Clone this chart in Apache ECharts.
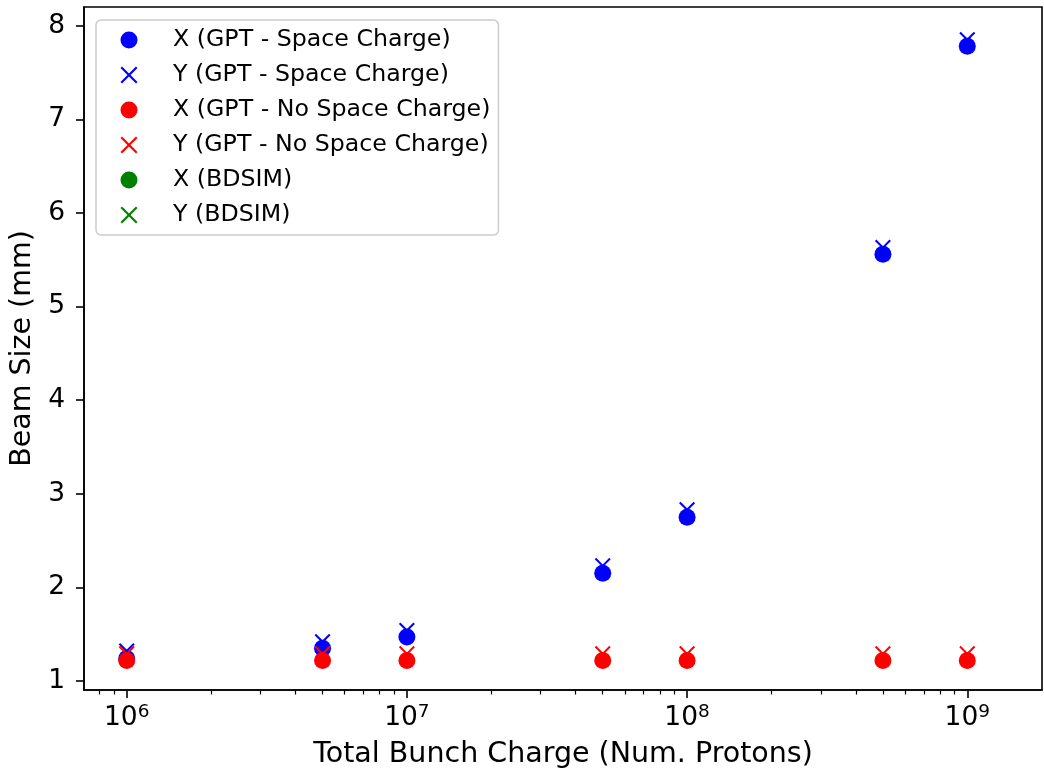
<!DOCTYPE html>
<html>
<head>
<meta charset="utf-8">
<script src="https://cdn.jsdelivr.net/npm/echarts@6/dist/echarts.min.js"></script>
<style>
  html, body { margin: 0; padding: 0; background: #fff; }
  #myChart { width: 1044px; height: 772px; }
</style>
</head>
<body>
<div id="myChart"></div>
<script>
// bunch charge values (protons)
const charges = [1e6, 5e6, 1e7, 5e7, 1e8, 5e8, 1e9];
// beam sizes (mm)
const xSpaceCharge = [1.24, 1.35, 1.47, 2.15, 2.75, 5.56, 7.78];
const ySpaceCharge = [1.32, 1.42, 1.54, 2.23, 2.83, 5.63, 7.85];
const xNoSpaceCharge = [1.22, 1.22, 1.22, 1.22, 1.22, 1.22, 1.22];
const yNoSpaceCharge = [1.29, 1.29, 1.29, 1.29, 1.29, 1.29, 1.29];
const xBdsim = [];
const yBdsim = [];

const majorTicks = [1e6, 1e7, 1e8, 1e9];
const minorTicks = [8e5, 9e5,
  2e6, 3e6, 4e6, 5e6, 6e6, 7e6, 8e6, 9e6,
  2e7, 3e7, 4e7, 5e7, 6e7, 7e7, 8e7, 9e7,
  2e8, 3e8, 4e8, 5e8, 6e8, 7e8, 8e8, 9e8];
const yTicks = [1, 2, 3, 4, 5, 6, 7, 8];

const names = [
  "X (GPT - Space Charge)",
  "Y (GPT - Space Charge)",
  "X (GPT - No Space Charge)",
  "Y (GPT - No Space Charge)",
  "X (BDSIM)",
  "Y (BDSIM)",
];
const icons = ["circle", "cross", "circle", "cross", "circle", "cross"];

const CROSS = "path://M9,0L50,41L91,0L100,9L59,50L100,91L91,100L50,59L9,100L0,91L41,50L0,9Z";
const FONT = "DejaVu Sans";

function pairs(vals) {
  return vals.map((v, i) => [charges[i], v]);
}

function dots(name, color, vals) {
  return { name, type: "scatter", symbol: "circle", symbolSize: 17,
    itemStyle: { color, opacity: 1 }, data: pairs(vals), xAxisIndex: 0 };
}
function crosses(name, color, vals) {
  return { name, type: "scatter", symbol: CROSS, symbolSize: 16,
    itemStyle: { color, opacity: 1 }, data: pairs(vals), xAxisIndex: 0 };
}

const xMin = 7.04e5, xMax = 1.848e9;

const option = {
  animation: false,
  backgroundColor: "#fff",
  textStyle: { fontFamily: FONT },
  grid: {
    left: 84, right: 2, top: 7, bottom: 82,
    containLabel: false, outerBoundsMode: "none",
    show: true, borderColor: "#000", borderWidth: 1.6,
  },
  legend: [
    // box + labels
    {
      orient: "vertical", z: 4,
      left: 96, top: 20,
      padding: [8, 8, 8, 8],
      itemWidth: 64, itemHeight: 17, itemGap: 11,
      backgroundColor: "rgba(255,255,255,0.8)",
      borderColor: "#cccccc", borderWidth: 1.5, borderRadius: 5,
      textStyle: { fontFamily: FONT, fontSize: 23.7, color: "#000" },
      data: names.map((n) => ({ name: n, icon: "none" })),
    },
    // markers only
    {
      orient: "vertical", z: 5,
      left: 120.5, top: 28,
      padding: 0,
      itemWidth: 17, itemHeight: 17, itemGap: 11,
      formatter: () => "\u200b",
      textStyle: { fontFamily: FONT, fontSize: 23.7, color: "#000" },
      data: names.map((n, i) => ({ name: n, icon: icons[i] === "cross" ? CROSS : "circle" })),
    },
  ],
  xAxis: [
    {
      type: "log", logBase: 10, min: xMin, max: xMax, position: "bottom",
      name: "Total Bunch Charge (Num. Protons)",
      nameLocation: "middle", nameGap: 50,
      nameTextStyle: { fontFamily: FONT, fontSize: 28.5, color: "#000" },
      axisLine: { show: true, lineStyle: { color: "#000", width: 1.6 } },
      axisTick: { show: true, customValues: majorTicks, length: 8, lineStyle: { color: "#000", width: 1.6 } },
      axisLabel: {
        customValues: majorTicks, margin: 13, color: "#000",
        formatter: (v) => "{b|10}{s|" + Math.round(Math.log10(v)) + "}",
        rich: {
          b: { fontFamily: FONT, fontSize: 26.5, color: "#000" },
          s: { fontFamily: FONT, fontSize: 18.5, color: "#000", padding: [0, 0, 12, 0] },
        },
      },
      splitLine: { show: false },
    },
    {
      type: "log", logBase: 10, min: xMin, max: xMax, position: "bottom",
      axisLine: { show: false },
      axisTick: { show: true, customValues: minorTicks, length: 4.5, lineStyle: { color: "#000", width: 1.2 } },
      axisLabel: { show: false },
      splitLine: { show: false },
    },
  ],
  yAxis: {
    type: "value", min: 0.904, max: 8.2,
    name: "Beam Size (mm)",
    nameLocation: "middle", nameGap: 41,
    nameTextStyle: { fontFamily: FONT, fontSize: 28.5, color: "#000" },
    axisLine: { show: true, lineStyle: { color: "#000", width: 1.6 } },
    axisTick: { show: true, customValues: yTicks, length: 8, lineStyle: { color: "#000", width: 1.6 } },
    axisLabel: { customValues: yTicks, margin: 19, fontFamily: FONT, fontSize: 26.5, color: "#000" },
    splitLine: { show: false },
  },
  series: [
    dots(names[0], "#0000ff", xSpaceCharge),
    crosses(names[1], "#0000ff", ySpaceCharge),
    dots(names[2], "#ff0000", xNoSpaceCharge),
    crosses(names[3], "#ff0000", yNoSpaceCharge),
    dots(names[4], "#008000", xBdsim),
    crosses(names[5], "#008000", yBdsim),
  ],
};

const chart = echarts.init(document.getElementById("myChart"));
chart.setOption(option);
</script>
</body>
</html>
